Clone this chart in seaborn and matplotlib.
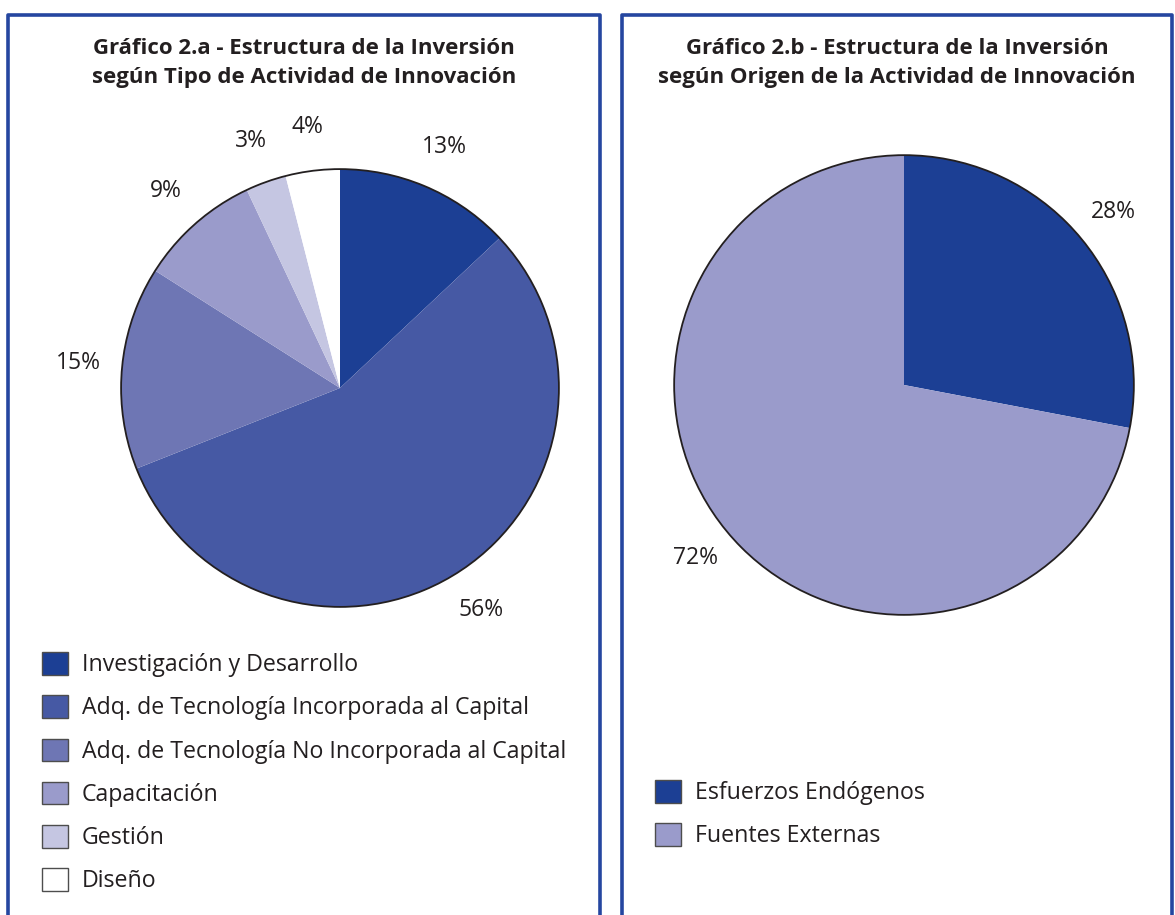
import matplotlib
matplotlib.use("Agg")
import matplotlib.pyplot as plt
from matplotlib.patches import Patch
from matplotlib.lines import Line2D
import seaborn as sns

# ---- data ----
cats_a = ["Investigación y Desarrollo",
          "Adq. de Tecnología Incorporada al Capital",
          "Adq. de Tecnología No Incorporada al Capital",
          "Capacitación", "Gestión", "Diseño"]
vals_a = [13, 56, 15, 9, 3, 4]
title_a = "Gráfico 2.a - Estructura de la Inversión\nsegún Tipo de Actividad de Innovación"

cats_b = ["Esfuerzos Endógenos", "Fuentes Externas"]
vals_b = [28, 72]
title_b = "Gráfico 2.b - Estructura de la Inversión\nsegún Origen de la Actividad de Innovación"

colors_a = ["#1c3f94", "#4659a4", "#6e76b4", "#9a9bcb", "#c5c6e2", "#ffffff"]
colors_b = ["#1c3f94", "#9a9bcb"]

sns.set_theme(style="white")
plt.rcParams["font.family"] = ["Open Sans", "DejaVu Sans"]

W, H = 1175, 915
fig = plt.figure(figsize=(W / 100, H / 100), dpi=100)

def px_axes(cx, cy, r):
    return fig.add_axes([(cx - r) / W, (H - cy - r) / H, 2 * r / W, 2 * r / H])

TXT = "#231f20"

def draw_pie(ax, vals, colors, pctd):
    wedges, texts, autotexts = ax.pie(
        vals, colors=colors, startangle=90, counterclock=False,
        autopct=lambda p: f"{p:.0f}%", pctdistance=pctd,
        wedgeprops=dict(linewidth=0), radius=1.0,
        textprops=dict(fontsize=16.5, color=TXT))
    ax.pie([1], colors=["none"], radius=1.0,
           wedgeprops=dict(linewidth=1.3, edgecolor="#231f20", facecolor="none"))
    ax.set_xlim(-1.005, 1.005)
    ax.set_ylim(-1.005, 1.005)
    ax.axis("off")
    return wedges

ax_a = px_axes(340, 388, 220)
wa = draw_pie(ax_a, vals_a, colors_a, 1.2)
ax_b = px_axes(904, 385, 231)
wb = draw_pie(ax_b, vals_b, colors_b, 1.18)

# titles
fig.text(304 / W, 1 - 63 / H, title_a, ha="center", va="center",
         fontsize=16, fontweight="bold", color=TXT, linespacing=1.55)
fig.text(897 / W, 1 - 63 / H, title_b, ha="center", va="center",
         fontsize=16, fontweight="bold", color=TXT, linespacing=1.55)

# legends
def make_legend(cats, colors, x0, ytop):
    handles = [Patch(facecolor=c, edgecolor="#4d4d4d", linewidth=1.0) for c in colors]
    leg = fig.legend(handles, cats, loc="upper left",
                     bbox_to_anchor=(x0 / W, 1 - ytop / H),
                     frameon=False, fontsize=16.7, handlelength=1.12, handleheight=1.12,
                     handletextpad=0.6, labelspacing=0.78, borderaxespad=0,
                     borderpad=0)
    for t in leg.get_texts():
        t.set_color(TXT)
    return leg

make_legend(cats_a, colors_a, 42, 652)
make_legend(cats_b, colors_b, 655, 780)

# panel borders (open at bottom)
bc = "#2546a0"
lw = 2.6
for (x0, x1) in [(8, 600), (622, 1172)]:
    fig.add_artist(Line2D([x0 / W, x0 / W, x1 / W, x1 / W],
                          [0, 1 - 15 / H, 1 - 15 / H, 0],
                          color=bc, linewidth=lw, transform=fig.transFigure))

fig.savefig("out.png", dpi=100, facecolor="white")
